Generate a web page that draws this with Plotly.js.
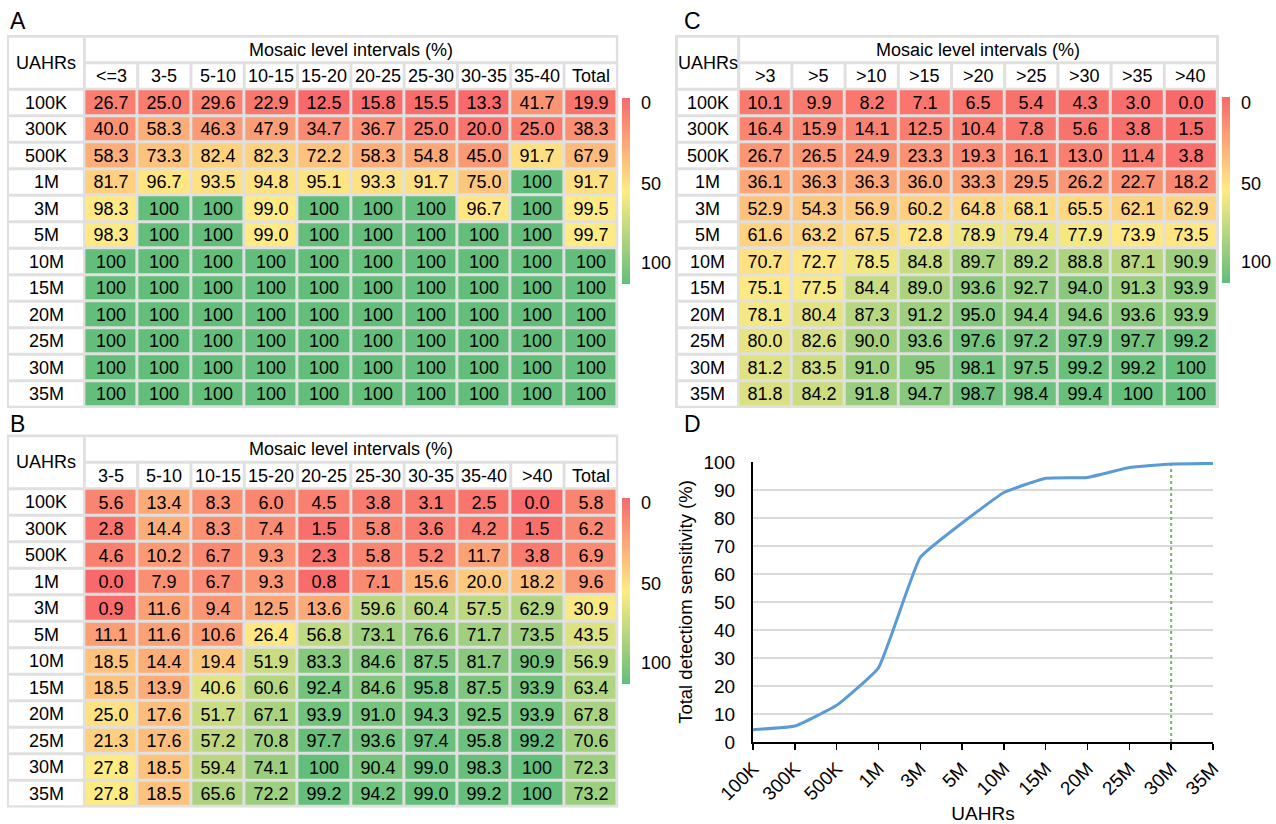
<!DOCTYPE html>
<html><head><meta charset="utf-8">
<script src="https://cdn.plot.ly/plotly-3.0.1.min.js"></script>
<style>html,body{margin:0;padding:0;background:#fff;} #chart{width:1276px;height:824px;}</style>
</head><body><div id="chart"></div>
<script>
// ---------------- DATA ----------------
const uahrs = ['100K','300K','500K','1M','3M','5M','10M','15M','20M','25M','30M','35M'];

const colsA = ['<=3','3-5','5-10','10-15','15-20','20-25','25-30','30-35','35-40','Total'];
const valsA = [
  ['26.7','25.0','29.6','22.9','12.5','15.8','15.5','13.3','41.7','19.9'],
  ['40.0','58.3','46.3','47.9','34.7','36.7','25.0','20.0','25.0','38.3'],
  ['58.3','73.3','82.4','82.3','72.2','58.3','54.8','45.0','91.7','67.9'],
  ['81.7','96.7','93.5','94.8','95.1','93.3','91.7','75.0','100','91.7'],
  ['98.3','100','100','99.0','100','100','100','96.7','100','99.5'],
  ['98.3','100','100','99.0','100','100','100','100','100','99.7'],
  ['100','100','100','100','100','100','100','100','100','100'],
  ['100','100','100','100','100','100','100','100','100','100'],
  ['100','100','100','100','100','100','100','100','100','100'],
  ['100','100','100','100','100','100','100','100','100','100'],
  ['100','100','100','100','100','100','100','100','100','100'],
  ['100','100','100','100','100','100','100','100','100','100']
];

const colsB = ['3-5','5-10','10-15','15-20','20-25','25-30','30-35','35-40','>40','Total'];
const valsB = [
  ['5.6','13.4','8.3','6.0','4.5','3.8','3.1','2.5','0.0','5.8'],
  ['2.8','14.4','8.3','7.4','1.5','5.8','3.6','4.2','1.5','6.2'],
  ['4.6','10.2','6.7','9.3','2.3','5.8','5.2','11.7','3.8','6.9'],
  ['0.0','7.9','6.7','9.3','0.8','7.1','15.6','20.0','18.2','9.6'],
  ['0.9','11.6','9.4','12.5','13.6','59.6','60.4','57.5','62.9','30.9'],
  ['11.1','11.6','10.6','26.4','56.8','73.1','76.6','71.7','73.5','43.5'],
  ['18.5','14.4','19.4','51.9','83.3','84.6','87.5','81.7','90.9','56.9'],
  ['18.5','13.9','40.6','60.6','92.4','84.6','95.8','87.5','93.9','63.4'],
  ['25.0','17.6','51.7','67.1','93.9','91.0','94.3','92.5','93.9','67.8'],
  ['21.3','17.6','57.2','70.8','97.7','93.6','97.4','95.8','99.2','70.6'],
  ['27.8','18.5','59.4','74.1','100','90.4','99.0','98.3','100','72.3'],
  ['27.8','18.5','65.6','72.2','99.2','94.2','99.0','99.2','100','73.2']
];

const colsC = ['>3','>5','>10','>15','>20','>25','>30','>35','>40'];
const valsC = [
  ['10.1','9.9','8.2','7.1','6.5','5.4','4.3','3.0','0.0'],
  ['16.4','15.9','14.1','12.5','10.4','7.8','5.6','3.8','1.5'],
  ['26.7','26.5','24.9','23.3','19.3','16.1','13.0','11.4','3.8'],
  ['36.1','36.3','36.3','36.0','33.3','29.5','26.2','22.7','18.2'],
  ['52.9','54.3','56.9','60.2','64.8','68.1','65.5','62.1','62.9'],
  ['61.6','63.2','67.5','72.8','78.9','79.4','77.9','73.9','73.5'],
  ['70.7','72.7','78.5','84.8','89.7','89.2','88.8','87.1','90.9'],
  ['75.1','77.5','84.4','89.0','93.6','92.7','94.0','91.3','93.9'],
  ['78.1','80.4','87.3','91.2','95.0','94.4','94.6','93.6','93.9'],
  ['80.0','82.6','90.0','93.6','97.6','97.2','97.9','97.7','99.2'],
  ['81.2','83.5','91.0','95','98.1','97.5','99.2','99.2','100'],
  ['81.8','84.2','91.8','94.7','98.7','98.4','99.4','100','100']
];

const sensitivityD = [4.4, 5.7, 13.1, 26.5, 65.9, 78.2, 89.1, 94.2, 94.5, 98.0, 99.3, 99.5];
const cutoffUAHR = '30M';
const sensRange = [0, 100];
const legendTicks = ['0','50','100'];

// ---------------- STYLE / GEOMETRY ----------------
const W = 1276, H = 824;
const FONT = 'Arial, "Liberation Sans", sans-serif';
const RED = '#F8696B', YEL = '#FFEB84', GRN = '#63BE7B';
const GRID = '#e0e0e0';
const TXT = 18;
const DTXT = 19;

const tables = [
  {cols: colsA, rows: valsA, xa: 'x', ya: 'y', frame: [7, 618.5, 34.75, 408.25], labelCol: [9, 83],
   col0: 111, colPitch: 53.3, row0: 102.5, rowPitch: 26.5, cbar: {x: 622, top: 98, len: 186}, panel: {x: 8, y: 21, t: 'A'}},
  {cols: colsB, rows: valsB, xa: 'x2', ya: 'y2', frame: [7, 618.5, 434.25, 807.75], labelCol: [9, 83],
   col0: 111, colPitch: 53.3, row0: 502, rowPitch: 26.5, cbar: {x: 622, top: 497.5, len: 186}, panel: {x: 8, y: 424, t: 'B'}},
  {cols: colsC, rows: valsC, xa: 'x3', ya: 'y3', frame: [675, 1219, 34.75, 408.25], labelCol: [678, 737],
   col0: 765.3, colPitch: 53.2, row0: 102.5, rowPitch: 26.5, cbar: {x: 1222, top: 97.5, len: 186}, panel: {x: 682, y: 21, t: 'C'}}
];

const esc = s => s.replace(/</g, '&lt;').replace(/>/g, '&gt;');

const traces = [], shapes = [], annotations = [];
const layout = {
  width: W, height: H, margin: {l: 0, r: 0, t: 0, b: 0},
  paper_bgcolor: '#fff', plot_bgcolor: '#fff',
  font: {family: FONT, size: TXT, color: '#000'},
  showlegend: false
};

tables.forEach(tb => {
  const n = tb.cols.length;
  const z = tb.rows.map(r => r.map(parseFloat));
  const flat = z.flat().slice().sort((a, b) => a - b);
  const zmin = flat[0], zmax = flat[flat.length - 1];
  const half = flat.length / 2;
  const med = flat.length % 2 ? flat[Math.floor(half)] : (flat[half - 1] + flat[half]) / 2;
  let t = (med - zmin) / (zmax - zmin);
  t = Math.min(0.999, Math.max(0.001, t));

  const [fl, fr, ft, fb] = tb.frame;
  const xr = [(fl - tb.col0) / tb.colPitch, (fr - tb.col0) / tb.colPitch];
  const yr = [(fb - tb.row0) / tb.rowPitch, (ft - tb.row0) / tb.rowPitch];
  const xk = tb.xa === 'x' ? 'xaxis' : 'xaxis' + tb.xa.slice(1);
  const yk = tb.ya === 'y' ? 'yaxis' : 'yaxis' + tb.ya.slice(1);
  layout[xk] = {domain: [fl / W, fr / W], range: xr, visible: false, fixedrange: true, anchor: tb.ya};
  layout[yk] = {domain: [1 - fb / H, 1 - ft / H], range: yr, visible: false, fixedrange: true, anchor: tb.xa};

  traces.push({
    type: 'heatmap', xaxis: tb.xa, yaxis: tb.ya,
    x: tb.cols.map((_, i) => i), y: tb.rows.map((_, j) => j), z: z,
    text: tb.rows, texttemplate: '%{text}',
    textfont: {family: FONT, size: TXT, color: '#000'},
    colorscale: [[0, RED], [t, YEL], [1, GRN]], zmin: zmin, zmax: zmax,
    showscale: false, xgap: 3, ygap: 3, hoverinfo: 'skip'
  });

  // legend color bar
  traces.push({
    type: 'scatter', mode: 'markers', xaxis: tb.xa, yaxis: tb.ya, x: [0], y: [0],
    hoverinfo: 'skip', showlegend: false,
    marker: {opacity: 0, size: 1, color: [0], cmin: 0, cmax: 100,
      colorscale: [[0, GRN], [0.5, YEL], [1, RED]], showscale: true,
      colorbar: {x: tb.cbar.x / W, xanchor: 'left', y: 1 - tb.cbar.top / H, yanchor: 'top',
        len: tb.cbar.len, lenmode: 'pixels', thickness: 8, thicknessmode: 'pixels',
        outlinewidth: 0, borderwidth: 0, showticklabels: false, ticks: '', xpad: 0, ypad: 0}}
  });
  const labOff = [5, 86, 165];
  legendTicks.forEach((s, k) => annotations.push({
    xref: 'paper', yref: 'paper', x: (tb.cbar.x + 17) / W, y: 1 - (tb.cbar.top + labOff[k]) / H,
    xanchor: 'left', yanchor: 'middle', text: s, showarrow: false, font: {size: TXT}
  }));

  // table frame & white label cells
  const gx = 1.5 / tb.colPitch, gy = 1.5 / tb.rowPitch;
  const rect = (x0, x1, y0, y1, fill) => shapes.push({
    type: 'rect', xref: tb.xa, yref: tb.ya, x0, x1, y0, y1, fillcolor: fill,
    line: {width: 0}, layer: 'below'
  });
  rect(xr[0], xr[1], yr[1], yr[0], GRID);
  const lc = [(tb.labelCol[0] - tb.col0) / tb.colPitch, (tb.labelCol[1] - tb.col0) / tb.colPitch];
  const lcMid = (lc[0] + lc[1]) / 2;
  rect(-0.5 + gx, n - 0.5 - gx, -2.5 + gy, -1.5 - gy, '#fff');
  annotations.push({xref: tb.xa, yref: tb.ya, x: (n - 1) / 2, y: -2, text: 'Mosaic level intervals (%)',
    showarrow: false, font: {size: TXT}});
  rect(lc[0], lc[1], -2.5 + gy, -0.5 - gy, '#fff');
  annotations.push({xref: tb.xa, yref: tb.ya, x: lcMid, y: -1.5, text: 'UAHRs', showarrow: false, font: {size: TXT}});
  tb.cols.forEach((c, i) => {
    rect(i - 0.5 + gx, i + 0.5 - gx, -1.5 + gy, -0.5 - gy, '#fff');
    annotations.push({xref: tb.xa, yref: tb.ya, x: i, y: -1, text: esc(c), showarrow: false, font: {size: TXT}});
  });
  uahrs.forEach((r, j) => {
    rect(lc[0], lc[1], j - 0.5 + gy, j + 0.5 - gy, '#fff');
    annotations.push({xref: tb.xa, yref: tb.ya, x: lcMid, y: j, text: r, showarrow: false, font: {size: TXT}});
  });
  annotations.push({xref: 'paper', yref: 'paper', x: tb.panel.x / W, y: 1 - tb.panel.y / H,
    xanchor: 'left', yanchor: 'middle', text: tb.panel.t, showarrow: false, font: {size: 23}});
});

// ---------------- PANEL D ----------------
const dPx = {l: 753, r: 1213, t: 462, b: 742};
layout.xaxis4 = {
  domain: [dPx.l / W, dPx.r / W], anchor: 'y4', type: 'category',
  categoryorder: 'array', categoryarray: uahrs, range: [0, uahrs.length - 1],
  showline: true, linecolor: '#000', linewidth: 2, ticks: 'outside', ticklen: 6, tickwidth: 1.5,
  tickcolor: '#000', tickangle: -45, tickfont: {size: DTXT}, showgrid: false, zeroline: false,
  title: {text: 'UAHRs', font: {size: DTXT}, standoff: 10}, fixedrange: true
};
layout.yaxis4 = {
  domain: [1 - dPx.b / H, 1 - dPx.t / H], anchor: 'x4', range: sensRange, dtick: 10, tick0: 0,
  showline: true, linecolor: '#000', linewidth: 2, ticks: '', ticklabelstandoff: 12,
  showgrid: true, gridcolor: '#d9d9d9', gridwidth: 1.5, zeroline: false, tickfont: {size: DTXT},
  title: {text: 'Total detectiom sensitivity (%)', font: {size: 18.5}, standoff: 6}, fixedrange: true
};
traces.push({
  type: 'scatter', mode: 'lines', xaxis: 'x4', yaxis: 'y4',
  x: [cutoffUAHR, cutoffUAHR], y: sensRange,
  line: {color: '#6CC04A', width: 2, dash: 'dot'}, hoverinfo: 'skip'
});
traces.push({
  type: 'scatter', mode: 'lines', xaxis: 'x4', yaxis: 'y4',
  x: uahrs, y: sensitivityD, cliponaxis: false,
  line: {color: '#5B9BD5', width: 3, shape: 'spline', smoothing: 0.35}, hoverinfo: 'skip'
});
annotations.push({xref: 'paper', yref: 'paper', x: 682 / W, y: 1 - 424 / H,
  xanchor: 'left', yanchor: 'middle', text: 'D', showarrow: false, font: {size: 23}});

layout.shapes = shapes;
layout.annotations = annotations;

Plotly.newPlot('chart', traces, layout, {staticPlot: true, displayModeBar: false});
</script>
</body></html>
